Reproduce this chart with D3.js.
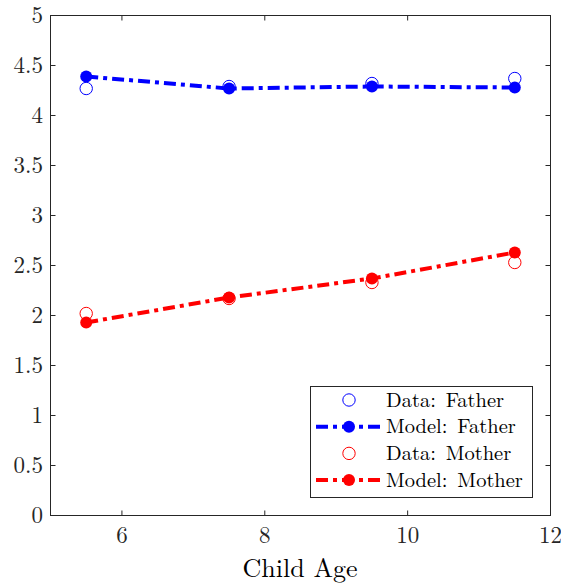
<!DOCTYPE html>
<html><head><meta charset="utf-8">
<script src="https://cdn.jsdelivr.net/npm/d3@7"></script>
<style>body{margin:0;background:#fff}svg{display:block}</style>
</head><body><svg id="c" width="561" height="585"></svg>
<script>
const ages = [5.5, 7.5, 9.5, 11.5];
const dataFather = [4.27, 4.29, 4.32, 4.37];
const modelFather = [4.39, 4.27, 4.29, 4.28];
const dataMother = [2.02, 2.17, 2.33, 2.53];
const modelMother = [1.93, 2.18, 2.37, 2.63];
const xTicks = [6, 8, 10, 12];
const yTicks = [0, 0.5, 1, 1.5, 2, 2.5, 3, 3.5, 4, 4.5, 5];
const legendLabels = ["Data: Father", "Model: Father", "Data: Mother", "Model: Mother"];

const FONT = "'Latin Modern Roman', 'Liberation Serif', serif";
const svg = d3.select("#c");
const L = 50.5, R = 550.5, T = 15.5, B = 515.5;
const x = d3.scaleLinear().domain([5, 12]).range([L, R]);
const y = d3.scaleLinear().domain([0, 5]).range([B, T]);
const axisCol = "#262626";

const tl = 5;
const g = svg.append("g");
xTicks.forEach(v => {
  g.append("line").attr("x1", x(v)).attr("x2", x(v)).attr("y1", B).attr("y2", B - tl).attr("stroke", axisCol);
  g.append("line").attr("x1", x(v)).attr("x2", x(v)).attr("y1", T).attr("y2", T + tl).attr("stroke", axisCol);
  g.append("text").attr("x", x(v)).attr("y", 543).attr("text-anchor", "middle")
    .style("font-family", FONT).attr("font-size", 23).attr("fill", axisCol).text(v);
});
yTicks.forEach(v => {
  g.append("line").attr("x1", L).attr("x2", L + tl).attr("y1", y(v)).attr("y2", y(v)).attr("stroke", axisCol);
  g.append("line").attr("x1", R).attr("x2", R - tl).attr("y1", y(v)).attr("y2", y(v)).attr("stroke", axisCol);
  g.append("text").attr("x", 43).attr("y", y(v) + 7.5).attr("text-anchor", "end")
    .style("font-family", FONT).attr("font-size", 23).attr("fill", axisCol).text(v);
});
svg.append("rect").attr("x", L).attr("y", T).attr("width", R - L).attr("height", B - T)
  .attr("fill", "none").attr("stroke", axisCol).attr("stroke-width", 1);

svg.append("text").attr("x", 300).attr("y", 577).attr("text-anchor", "middle")
  .style("font-family", FONT).attr("font-size", 26).attr("fill", "#000").text("Child Age");

const dash = "12,5,4,5";
const line = d3.line().x(d => x(d[0])).y(d => y(d[1]));
function series(vals, color, filled) {
  const pts = ages.map((a, i) => [a, vals[i]]);
  if (filled) {
    svg.append("path").attr("d", line(pts)).attr("fill", "none").attr("stroke", color)
      .attr("stroke-width", 4).attr("stroke-dasharray", dash);
    svg.selectAll(null).data(pts).enter().append("circle")
      .attr("cx", d => x(d[0])).attr("cy", d => y(d[1])).attr("r", 6).attr("fill", color);
  } else {
    svg.selectAll(null).data(pts).enter().append("circle")
      .attr("cx", d => x(d[0])).attr("cy", d => y(d[1])).attr("r", 6.2)
      .attr("fill", "none").attr("stroke", color).attr("stroke-width", 1);
  }
}
series(dataFather, "#0000ff", false);
series(dataMother, "#ff0000", false);
series(modelFather, "#0000ff", true);
series(modelMother, "#ff0000", true);

const lg = svg.append("g");
lg.append("rect").attr("x", 310.5).attr("y", 386.5).attr("width", 222).attr("height", 111)
  .attr("fill", "#fff").attr("stroke", "#262626").attr("stroke-width", 1);
const colors = ["#0000ff", "#0000ff", "#ff0000", "#ff0000"];
legendLabels.forEach((lab, i) => {
  const cy = 400 + i * 26.7;
  if (i % 2 === 0) {
    lg.append("circle").attr("cx", 349).attr("cy", cy).attr("r", 6.2).attr("fill", "none")
      .attr("stroke", colors[i]).attr("stroke-width", 1);
  } else {
    lg.append("line").attr("x1", 316).attr("x2", 381).attr("y1", cy).attr("y2", cy)
      .attr("stroke", colors[i]).attr("stroke-width", 4).attr("stroke-dasharray", dash);
    lg.append("circle").attr("cx", 349).attr("cy", cy).attr("r", 6).attr("fill", colors[i]);
  }
  lg.append("text").attr("x", 386).attr("y", cy + 6.5).style("font-family", FONT)
    .attr("font-size", 20.5).attr("fill", "#000").style("word-spacing", "3px").text(lab);
});
</script></body></html>
